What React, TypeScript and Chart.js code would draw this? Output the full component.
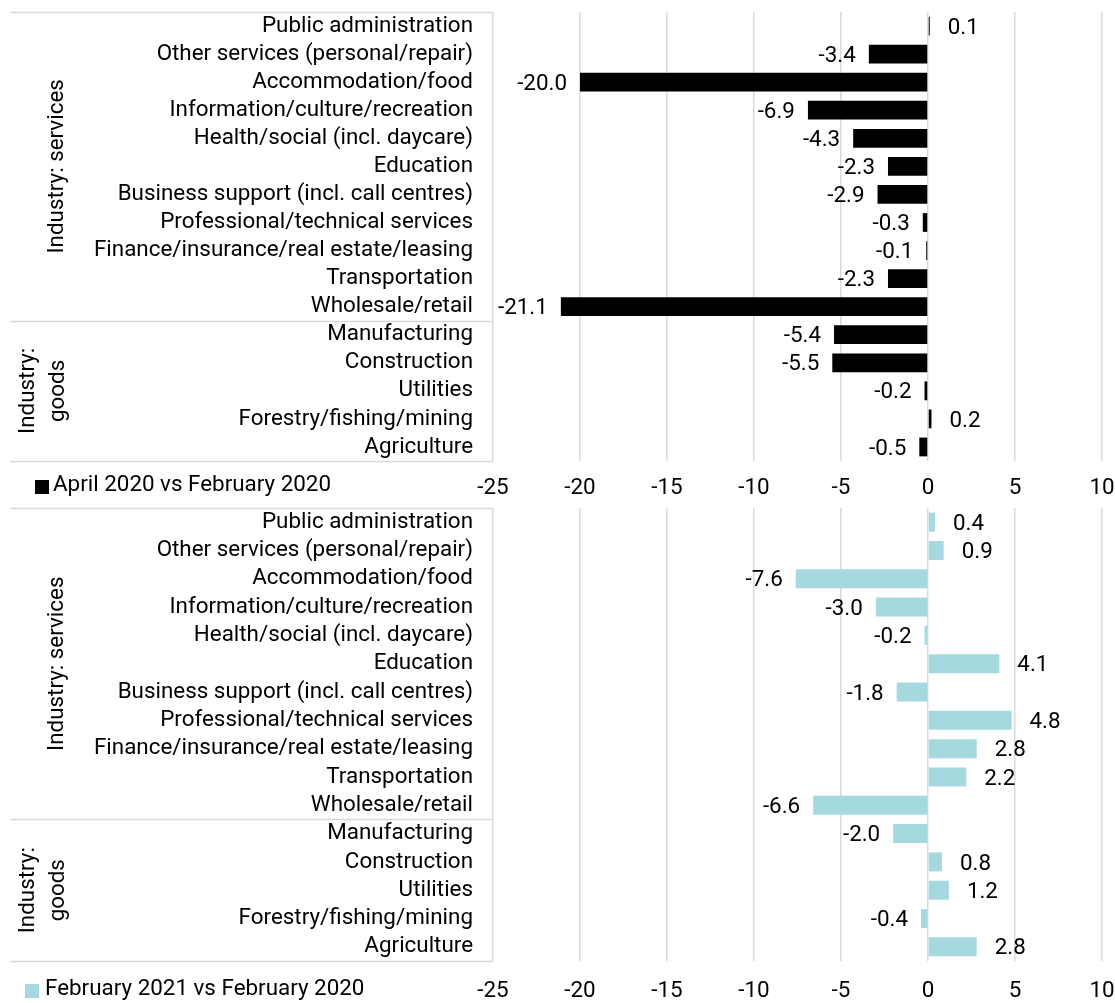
import React, { useEffect, useRef } from "react";
import { Chart, registerables } from "chart.js";

Chart.register(...registerables);

const categories = [
  "Public administration",
  "Other services (personal/repair)",
  "Accommodation/food",
  "Information/culture/recreation",
  "Health/social (incl. daycare)",
  "Education",
  "Business support (incl. call centres)",
  "Professional/technical services",
  "Finance/insurance/real estate/leasing",
  "Transportation",
  "Wholesale/retail",
  "Manufacturing",
  "Construction",
  "Utilities",
  "Forestry/fishing/mining",
  "Agriculture",
];

const april2020Values = [0.1, -3.4, -20.0, -6.9, -4.3, -2.3, -2.9, -0.3, -0.1, -2.3, -21.1, -5.4, -5.5, -0.2, 0.2, -0.5];
const feb2021Values = [0.4, 0.9, -7.6, -3.0, -0.2, 4.1, -1.8, 4.8, 2.8, 2.2, -6.6, -2.0, 0.8, 1.2, -0.4, 2.8];

const xTicks = [-25, -20, -15, -10, -5, 0, 5, 10];
const servicesCount = 11;
const groupServices = ["Industry: services"];
const groupGoods = ["Industry:", "goods"];

const FONT = "Roboto";
const FS = 22.4;

function makeChart(
  canvas: HTMLCanvasElement,
  values: number[],
  label: string,
  color: string,
  padTop: number,
  tickPad: number,
  axisH: number,
  legendX: number,
  legendTextX: number,
  legendDy: number
) {
  const overlay = {
    id: "overlay",
    afterDatasetsDraw(chart: any) {
      const ctx = chart.ctx;
      const meta = chart.getDatasetMeta(0);
      ctx.save();
      ctx.font = `${FS}px ${FONT}`;
      ctx.fillStyle = "#000";
      ctx.textBaseline = "middle";
      meta.data.forEach((bar: any, i: number) => {
        const v = values[i];
        const txt = v.toFixed(1);
        if (v >= 0) {
          ctx.textAlign = "left";
          ctx.fillText(txt, bar.x + 18, bar.y + 2);
        } else {
          ctx.textAlign = "right";
          ctx.fillText(txt, bar.x - 13, bar.y + 2);
        }
      });
      ctx.restore();
    },
    afterDraw(chart: any) {
      const ctx = chart.ctx;
      const area = chart.chartArea;
      const yScale = chart.scales.y;
      const left = 10;
      const right = area.left;
      ctx.save();
      ctx.strokeStyle = "#d9d9d9";
      ctx.lineWidth = 1.5;
      const sepY =
        (yScale.getPixelForValue(servicesCount - 1) + yScale.getPixelForValue(servicesCount)) / 2;
      [area.top, sepY, area.bottom].forEach((y: number) => {
        ctx.beginPath();
        ctx.moveTo(left, Math.round(y) + 0.5);
        ctx.lineTo(right, Math.round(y) + 0.5);
        ctx.stroke();
      });
      // group labels
      ctx.fillStyle = "#000";
      ctx.font = `${FS}px ${FONT}`;
      ctx.textAlign = "center";
      ctx.textBaseline = "middle";
      const sCenter =
        (yScale.getPixelForValue(0) + yScale.getPixelForValue(servicesCount - 1)) / 2;
      const gCenter =
        (yScale.getPixelForValue(servicesCount) + yScale.getPixelForValue(categories.length - 1)) / 2;
      ctx.save();
      ctx.translate(57, sCenter);
      ctx.rotate(-Math.PI / 2);
      ctx.fillText(groupServices[0], 0, 0);
      ctx.restore();
      groupGoods.forEach((t: string, k: number) => {
        ctx.save();
        ctx.translate(28 + k * 30, gCenter);
        ctx.rotate(-Math.PI / 2);
        ctx.fillText(t, 0, 0);
        ctx.restore();
      });
      // legend
      const ly = area.bottom + legendDy;
      ctx.fillStyle = color;
      ctx.fillRect(legendX, ly - 5, 14, 14);
      ctx.fillStyle = "#000";
      ctx.textAlign = "left";
      ctx.fillText(label, legendTextX, ly);
      ctx.restore();
    },
  };

  return new Chart(canvas, {
    type: "bar",
    data: {
      labels: categories,
      datasets: [
        {
          label,
          data: values,
          backgroundColor: color,
          barPercentage: 0.67,
          categoryPercentage: 1,
        },
      ],
    },
    options: {
      indexAxis: "y",
      animation: false,
      responsive: false,
      maintainAspectRatio: false,
      layout: { padding: { top: padTop, right: 13, left: 0, bottom: 0 } },
      plugins: {
        legend: { display: false },
        tooltip: { enabled: false },
      },
      scales: {
        x: {
          min: -25,
          max: 10,
          afterBuildTicks(scale: any) {
            scale.ticks = xTicks.map((v) => ({ value: v }));
          },
          afterFit(scale: any) {
            scale.height = axisH;
            scale.paddingLeft = 0;
            scale.paddingRight = 0;
          },
          grid: { color: "#d9d9d9", lineWidth: 1.5, drawTicks: false },
          border: { display: false },
          ticks: {
            padding: tickPad,
            color: "#000",
            font: { family: FONT, size: FS },
            maxRotation: 0,
            autoSkip: false,
          },
        },
        y: {
          afterFit(scale: any) {
            scale.width = 493;
            scale.paddingTop = 0;
            scale.paddingBottom = 0;
          },
          grid: { display: false, drawTicks: false },
          border: { display: false },
          ticks: {
            padding: 20,
            color: "#000",
            font: { family: FONT, size: FS },
            autoSkip: false,
          },
        },
      },
    },
    plugins: [overlay],
  } as any);
}

export default function App() {
  const topRef = useRef<HTMLCanvasElement>(null);
  const botRef = useRef<HTMLCanvasElement>(null);

  useEffect(() => {
    const c1 = makeChart(topRef.current!, april2020Values, "April 2020 vs February 2020", "#000000", 12, 14, 39, 35, 53, 24);
    const c2 = makeChart(botRef.current!, feb2021Values, "February 2021 vs February 2020", "#a5d8df", 8, 17, 42, 25, 45, 28);
    return () => {
      c1.destroy();
      c2.destroy();
    };
  }, []);

  return (
    <div style={{ position: "absolute", left: 0, top: 0, width: 1115, height: 1003, background: "#fff" }}>
      <canvas ref={topRef} width={1115} height={500} style={{ position: "absolute", left: 0, top: 0, width: 1115, height: 500 }} />
      <canvas ref={botRef} width={1115} height={503} style={{ position: "absolute", left: 0, top: 500, width: 1115, height: 503 }} />
    </div>
  );
}
